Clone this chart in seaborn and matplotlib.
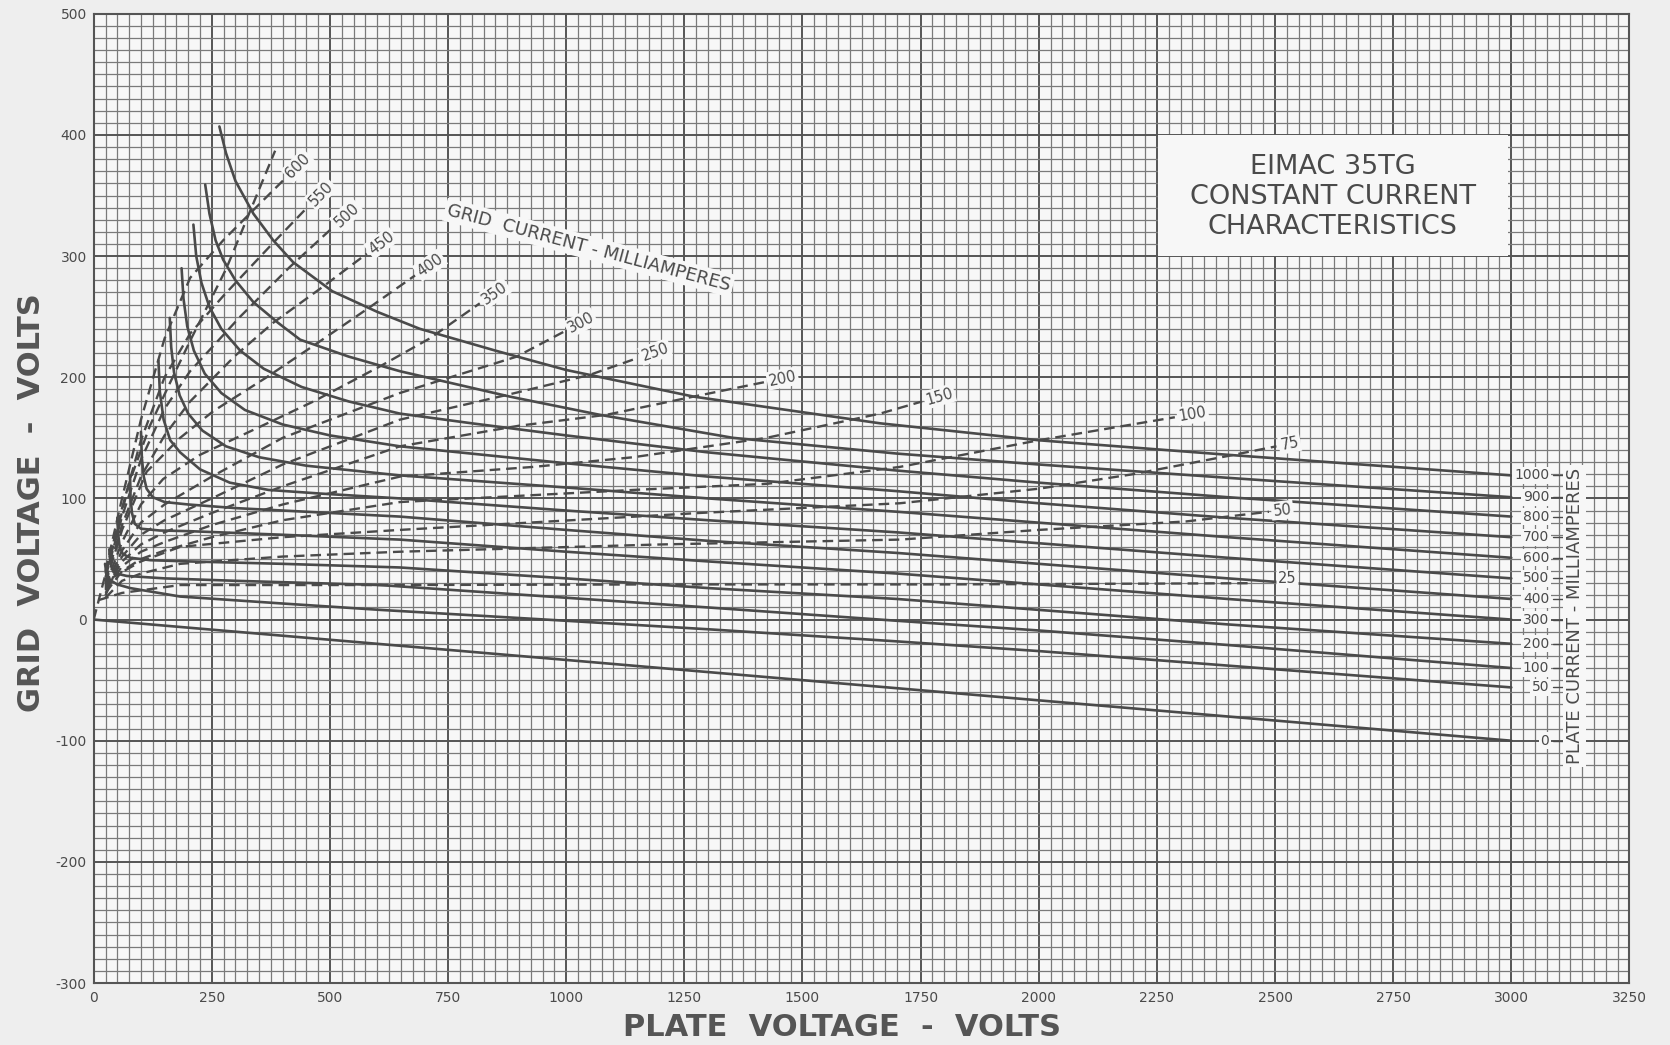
"""
EIMAC 35TG constant current characteristics - redrawn from the data sheet.
"""

import matplotlib
matplotlib.use("Agg")
import matplotlib.pyplot as plt
import matplotlib.ticker as mticker
import numpy as np
from matplotlib.patches import Rectangle
import pandas as pd
import seaborn as sns

# ── Theme ─────────────────────────────────────────────────────────────
PAPER = "#eeeeee"
SHEET = "#f7f7f7"
INK = "#4a4a4a"
GRID_MINOR = "#7a7a7a"
GRID_MAJOR = "#555555"

# ── Axis ticks ────────────────────────────────────────────────────────
X_TICKS = [0, 250, 500, 750, 1000, 1250, 1500, 1750, 2000, 2250, 2500, 2750, 3000, 3250]
Y_TICKS = [-300, -200, -100, 0, 100, 200, 300, 400, 500]

# ── Plate current curves (mA): (plate volts, grid volts) ──────────────
plate_1000 = [(266, 407), (280, 385), (300, 362), (338, 335), (380, 313), (422, 295), (505, 271),
              (600, 254), (690, 240), (850, 222), (1000, 206), (1270, 184), (1664, 162),
              (2000, 148), (2400, 136), (3000, 119)]
plate_900 = [(236, 359), (245, 335), (258, 313), (274, 297), (300, 280), (338, 262), (390, 245),
             (437, 231), (540, 217), (648, 205), (881, 184), (1071, 169), (1353, 150),
             (1700, 137), (2000, 128), (2400, 117), (3000, 101)]
plate_800 = [(211, 326), (217, 300), (228, 278), (245, 258), (270, 240), (310, 222), (360, 207),
             (440, 192), (540, 180), (648, 170), (800, 162), (1000, 152), (1300, 138),
             (1700, 123), (2000, 113), (2400, 101), (3000, 85)]
plate_700 = [(186, 290), (190, 265), (198, 242), (212, 222), (235, 203), (270, 187), (320, 173),
             (400, 161), (500, 152), (648, 143), (1000, 129), (1300, 118), (1700, 106),
             (2000, 96), (2400, 84), (3000, 68)]
plate_600 = [(161, 249), (164, 225), (170, 204), (182, 185), (200, 170), (230, 156), (280, 143),
             (350, 134), (450, 127), (648, 119), (1000, 109), (1300, 100), (1700, 89),
             (2000, 80), (2400, 68), (3000, 51)]
plate_500 = [(137, 214), (140, 188), (148, 165), (162, 148), (183, 138), (225, 124), (288, 113),
             (370, 107), (480, 104), (648, 100), (1000, 90), (1300, 82), (1700, 72),
             (2000, 63), (2400, 51), (3000, 34)]
plate_400 = [(100, 155), (102, 133), (106, 118), (112, 108), (125, 101), (150, 97), (200, 95),
             (300, 92), (450, 89), (648, 85), (1000, 74), (1300, 65), (1700, 55),
             (2000, 46), (2400, 34), (3000, 17)]
plate_300 = [(77, 119), (78, 101), (81, 88), (87, 79), (100, 75), (140, 73.5), (200, 73),
             (400, 70), (648, 66), (1000, 56), (1300, 48), (1700, 38), (2000, 29),
             (2400, 17), (3000, 0)]
plate_200 = [(50, 84), (52, 70), (55, 60), (62, 54), (78, 51), (120, 49), (200, 48),
             (400, 46), (648, 43), (1000, 34), (1300, 26), (1700, 17), (2000, 8),
             (2400, -4), (3000, -20)]
plate_100 = [(33, 58), (35, 48), (39, 42), (48, 38), (70, 36), (150, 34), (300, 32),
             (606, 28.5), (1000, 18), (1300, 10), (1700, -1), (2000, -9), (2400, -21), (3000, -40)]
plate_50 = [(24, 46), (27, 38), (33, 33), (50, 29), (77, 26), (183, 19), (394, 13.4),
            (606, 8), (1000, -1), (1300, -8), (1700, -18), (2000, -26), (2400, -38), (3000, -56)]
plate_0 = [(0, 0), (3000, -100)]

plate_curves = {
    "1000": plate_1000, "900": plate_900, "800": plate_800, "700": plate_700,
    "600": plate_600, "500": plate_500, "400": plate_400, "300": plate_300,
    "200": plate_200, "100": plate_100, "50": plate_50, "0": plate_0,
}

# ── Grid current curves (mA): (plate volts, grid volts) ───────────────
grid_600 = [(25, 40), (60, 100), (100, 165), (150, 232), (204, 282), (274, 313), (338, 338), (405, 364)]
grid_550 = [(25, 38), (60, 92), (100, 148), (150, 200), (204, 236), (274, 267), (380, 311), (454, 341)]
grid_500 = [(25, 35), (60, 85), (100, 132), (150, 174), (204, 205), (310, 250), (415, 291), (507, 324)]
grid_450 = [(25, 32), (60, 78), (100, 118), (150, 152), (204, 180), (300, 218), (380, 245),
            (486, 275), (578, 302)]
grid_400 = [(25, 30), (60, 74), (112, 122), (183, 150), (253, 172), (366, 200), (465, 226),
            (585, 258), (680, 284)]
grid_350 = [(25, 28), (60, 64), (100, 95), (147, 116), (225, 136), (324, 154), (465, 180),
            (606, 209), (711, 232), (817, 261)]
grid_300 = [(25, 27), (60, 57), (100, 80), (150, 95), (250, 118), (400, 150), (648, 187),
            (895, 217), (997, 238)]
grid_250 = [(25, 26), (60, 52), (100, 70), (150, 82), (250, 100), (400, 128), (648, 165),
            (881, 186), (1050, 202), (1152, 216)]
grid_200 = [(25, 25), (60, 48), (100, 62), (150, 72), (250, 88), (400, 110), (648, 143),
            (900, 160), (1085, 169), (1269, 184), (1420, 196)]
grid_150 = [(25, 24), (60, 44), (100, 56), (150, 64), (250, 78), (400, 95), (648, 118),
            (930, 126), (1142, 134), (1424, 150), (1664, 170), (1753, 180)]
grid_100 = [(25, 22), (60, 40), (100, 50), (150, 57), (250, 68), (400, 82), (648, 97),
            (1142, 107), (1424, 112), (1706, 126), (2000, 148), (2288, 167)]
grid_75 = [(25, 20), (41, 35), (100, 48), (183, 60), (400, 68), (648, 74), (1283, 88),
           (1706, 96), (2000, 108), (2200, 120), (2400, 135), (2503, 143)]
grid_50 = [(25, 18), (60, 32), (100, 38), (183, 46), (400, 52), (648, 56), (1200, 62),
           (1706, 66), (2000, 74), (2312, 81), (2487, 89)]
grid_25 = [(10, 16), (60, 22), (183, 28.5), (606, 28.5), (1200, 29), (1800, 29), (2442, 30)]
grid_limit = [(0, 0), (20, 30), (41, 60), (77, 115), (119, 160), (161, 195), (204, 230),
              (281, 290), (384, 387)]

grid_curves = {
    "600": grid_600, "550": grid_550, "500": grid_500, "450": grid_450, "400": grid_400,
    "350": grid_350, "300": grid_300, "250": grid_250, "200": grid_200, "150": grid_150,
    "100": grid_100, "75": grid_75, "50": grid_50, "25": grid_25,
}

TITLE = "EIMAC 35TG\nCONSTANT CURRENT\nCHARACTERISTICS"


def to_frame(points: list) -> pd.DataFrame:
    return pd.DataFrame(points, columns=["plate", "grid"])


sns.set_theme(style="white")
plt.rcParams.update({
    "font.family": ["DejaVu Sans"],
    "text.color": INK,
    "axes.labelcolor": INK,
    "xtick.color": INK,
    "ytick.color": INK,
    "axes.unicode_minus": False,
})

fig = plt.figure(figsize=(16.7, 10.45), dpi=100, facecolor=PAPER)
ax = fig.add_axes([0.0561, 0.0593, 0.9196, 0.9275])
ax.set_facecolor(SHEET)
ax.set_xlim(0, 3250)
ax.set_ylim(-300, 500)

# Graph-paper grid
ax.set_axisbelow(True)
ax.xaxis.set_major_locator(mticker.FixedLocator(X_TICKS))
ax.yaxis.set_major_locator(mticker.FixedLocator(Y_TICKS))
ax.xaxis.set_minor_locator(mticker.MultipleLocator(25))
ax.yaxis.set_minor_locator(mticker.MultipleLocator(10))
ax.grid(which="minor", color=GRID_MINOR, linewidth=0.9)
ax.grid(which="major", color=GRID_MAJOR, linewidth=1.4)
ax.tick_params(which="both", length=0)
ax.tick_params(axis="x", pad=6, labelsize=10)
ax.tick_params(axis="y", pad=5, labelsize=10)
for spine in ax.spines.values():
    spine.set_color(GRID_MAJOR)
    spine.set_linewidth(1.5)

# Plate current (solid)
for name, pts in plate_curves.items():
    sns.lineplot(data=to_frame(pts), x="plate", y="grid", ax=ax, sort=False,
                 estimator=None, color=INK, linewidth=1.9, zorder=3)

# Grid current (dashed)
for name, pts in list(grid_curves.items()) + [("", grid_limit)]:
    sns.lineplot(data=to_frame(pts), x="plate", y="grid", ax=ax, sort=False,
                 estimator=None, color=INK, linewidth=1.7, zorder=3,
                 dashes=False, linestyle=(0, (4.5, 2.5)))

ax.set_xlabel("")
ax.set_ylabel("")

# Labels along the grid-current curves
for name, pts in grid_curves.items():
    (x0, y0), (x1, y1) = pts[-2], pts[-1]
    p0 = ax.transData.transform((x0, y0))
    p1 = ax.transData.transform((x1, y1))
    ang = np.degrees(np.arctan2(p1[1] - p0[1], p1[0] - p0[0]))
    gap = 22 if name == "25" else 3
    ax.annotate(name, xy=(x1, y1),
                xytext=(gap * np.cos(np.radians(ang)), gap * np.sin(np.radians(ang)) + (3 if name == "25" else 0)),
                textcoords="offset points", rotation=ang, rotation_mode="anchor",
                ha="left", va="center", fontsize=10.5, color=INK, zorder=5,
                bbox=dict(boxstyle="square,pad=0.12", fc=SHEET, ec="none"))

ax.text(1048, 307, "GRID  CURRENT - MILLIAMPERES", rotation=-15, rotation_mode="anchor",
        ha="center", va="center", fontsize=13, color=INK, zorder=5,
        bbox=dict(boxstyle="square,pad=0.15", fc=SHEET, ec="none"))

# Labels at the end of the plate-current curves
for name, pts in plate_curves.items():
    ax.text(3080, pts[-1][1], name, ha="right", va="center", fontsize=10, color=INK, zorder=5,
            bbox=dict(boxstyle="square,pad=0.12", fc=SHEET, ec="none"))
    ax.plot([3088, 3112], [pts[-1][1], pts[-1][1]], color=INK, linewidth=1.0, zorder=5)

ax.text(3134, 3, "PLATE CURRENT - MILLIAMPERES", rotation=90, ha="center", va="center",
        fontsize=13, color=INK, zorder=5,
        bbox=dict(boxstyle="square,pad=0.15", fc=SHEET, ec="none"))

# Title panel
ax.add_patch(Rectangle((2252, 300), 742, 100, facecolor=SHEET, edgecolor="none", zorder=2))
ax.text(2622, 349, TITLE, ha="center", va="center", fontsize=19.5, color=INK,
        linespacing=1.2, zorder=4)

# Axis titles
fig.text(0.019, 0.519, "GRID  VOLTAGE  -  VOLTS", rotation=90, ha="center", va="center",
         fontsize=22, fontweight="bold", color="#555555")
fig.text(0.504, 0.0163, "PLATE  VOLTAGE  -  VOLTS", ha="center", va="center",
         fontsize=22, fontweight="bold", color="#555555")

fig.savefig("out.png", dpi=100, facecolor=PAPER)
plt.close(fig)
